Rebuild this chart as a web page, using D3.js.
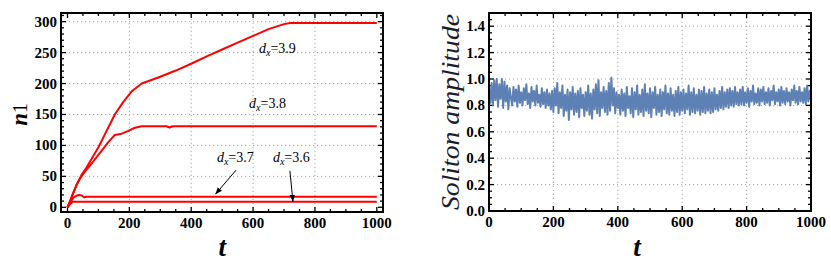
<!DOCTYPE html>
<html><head><meta charset="utf-8">
<script src="https://cdn.jsdelivr.net/npm/d3@7"></script>
<style>body{margin:0;background:#fff}svg{display:block}</style>
</head><body>
<svg id="c" width="831" height="273"></svg>
<script>
// ---- data ----
const d39_t = [0,10,20,30,45,60,80,100,120,153,180,207,240,300,350,400,450,500,550,600,650,700,720,1000];
const d39_n = [0,12,25,37,52,63,80,97,117,150,170,187,200,211,221,232,244,255,266,277,288,296,298,298];
const d38_t = [0,10,20,30,45,60,80,105,130,153,175,195,215,240,320,330,340,1000];
const d38_n = [0,12,25,37,50,60,72,88,104,117,119,123,128,131,131,129,131,131];
const d37_t = [0,10,20,30,38,46,55,60,1000];
const d37_n = [0,9,16,19,20,19,16,17,17];
const d36_t = [0,8,16,1000];
const d36_n = [0,5,9,9];
const leftXTicks = [0,200,400,600,800,1000];
const leftYTicks = [0,50,100,150,200,250,300];
const rightXTicks = [0,200,400,600,800,1000];
const rightYTicks = [0,0.2,0.4,0.6,0.8,1.0,1.2,1.4];
const labels = [
  {name:"3.9", t:619, n:249},
  {name:"3.8", t:587, n:160},
  {name:"3.7", t:483, n:73},
  {name:"3.6", t:664, n:73}
];
const arrows = [
  {t0:545, n0:60, t1:478, n1:21},
  {t0:719, n0:59, t1:729, n1:9}
];
// soliton amplitude sampled every 4 time units
const ampStep = 4;
const amp = [
0.93,0.82,0.97,0.80,0.99,0.84,1.00,0.79,0.96,0.85,1.00,0.78,0.98,0.83,0.95,0.77,0.93,0.86,
0.80,0.94,0.83,0.92,0.79,0.95,0.82,0.90,0.80,0.93,0.84,0.96,0.81,0.89,0.78,0.94,0.83,0.91,0.80,0.95,0.82,0.88,0.79,0.93,0.81,0.90,0.78,0.92,0.80,0.89,0.77,0.91,
0.75,0.93,0.80,0.97,0.74,0.90,0.78,0.95,0.72,0.88,0.76,0.92,0.69,0.90,0.77,0.94,0.73,0.89,0.75,0.91,0.71,0.93,0.78,0.88,0.72,0.90,0.76,0.95,0.73,0.89,0.70,0.92,0.77,0.96,0.74,0.99,0.72,0.90,0.78,0.94,0.75,0.91,0.73,0.97,0.76,1.01,0.80,0.93,0.74,0.90,
0.78,0.88,0.73,0.92,0.76,0.89,0.72,0.94,0.78,0.87,0.74,0.93,0.71,0.90,0.77,0.95,0.73,0.88,0.75,0.92,0.72,0.96,0.76,0.89,0.74,0.93,0.71,0.90,0.78,0.94,0.73,0.88,0.75,0.92,0.72,0.90,0.77,0.95,0.74,0.89,0.73,0.93,0.76,0.88,0.72,0.91,0.75,0.94,0.73,0.90,
0.76,0.92,0.74,0.89,0.77,0.95,0.73,0.90,0.75,0.93,0.74,0.88,0.76,0.92,0.73,0.91,0.75,0.94,0.74,0.89,0.76,0.92,0.74,0.90,0.75,0.93,0.77,0.88,0.76,0.91,0.78,0.94,0.77,0.90,0.79,0.92,0.78,0.93,0.80,0.91,0.79,0.94,0.81,0.90,0.80,
0.92,0.81,0.94,0.80,0.90,0.82,0.93,0.79,0.91,0.83,0.95,0.81,0.89,0.82,0.93,0.80,0.92,0.83,0.94,0.81,0.90,0.82,0.93,0.80,0.91,0.84,0.95,0.81,0.90,0.83,0.92,0.80,0.94,0.82,0.91,0.81,0.93,0.83,0.90,0.80,0.92,0.84,0.95,0.82,0.91,0.81,0.94,0.83,0.90,0.82,0.93,0.81,0.95,0.83,0.91,0.86
];

const svg = d3.select("#c");
const serif = "'Liberation Serif','DejaVu Serif',serif";

svg.append("defs").append("marker").attr("id","ah").attr("viewBox","0 0 10 10")
  .attr("refX",10).attr("refY",5).attr("markerWidth",7).attr("markerHeight",7)
  .attr("orient","auto").attr("markerUnits","userSpaceOnUse")
  .append("path").attr("d","M0,1L10,5L0,9Z").attr("fill","#000");

function frame(g, x, y, xt, yt, xMinor, yMinor, xfmt, yfmt, gridX, gridY){
  const [x0,x1] = x.range(), [y0,y1] = y.range();
  g.selectAll(".gx").data(gridX).join("line").attr("x1",d=>x(d)).attr("x2",d=>x(d))
    .attr("y1",y0).attr("y2",y1).attr("stroke","#aaa").attr("stroke-width",1).attr("stroke-dasharray","1.2,2.8");
  g.selectAll(".gy").data(gridY).join("line").attr("y1",d=>y(d)).attr("y2",d=>y(d))
    .attr("x1",x0).attr("x2",x1).attr("stroke","#aaa").attr("stroke-width",1).attr("stroke-dasharray","1.2,2.8");
  const tk = g.append("g").attr("stroke","#000").attr("stroke-width",1.3);
  xt.forEach(v=>{ tk.append("line").attr("x1",x(v)).attr("x2",x(v)).attr("y1",y0).attr("y2",y0-5);
                  tk.append("line").attr("x1",x(v)).attr("x2",x(v)).attr("y1",y1).attr("y2",y1+5);});
  xMinor.forEach(v=>{ tk.append("line").attr("x1",x(v)).attr("x2",x(v)).attr("y1",y0).attr("y2",y0-3);
                  tk.append("line").attr("x1",x(v)).attr("x2",x(v)).attr("y1",y1).attr("y2",y1+3);});
  yt.forEach(v=>{ tk.append("line").attr("y1",y(v)).attr("y2",y(v)).attr("x1",x0).attr("x2",x0+5);
                  tk.append("line").attr("y1",y(v)).attr("y2",y(v)).attr("x1",x1).attr("x2",x1-5);});
  yMinor.forEach(v=>{ tk.append("line").attr("y1",y(v)).attr("y2",y(v)).attr("x1",x0).attr("x2",x0+3);
                  tk.append("line").attr("y1",y(v)).attr("y2",y(v)).attr("x1",x1).attr("x2",x1-3);});
  g.selectAll(".xl").data(xt).join("text").attr("x",d=>x(d)).attr("y",y0+16)
    .attr("text-anchor","middle").attr("font-family",serif).attr("font-weight","bold").attr("font-size",15).text(xfmt);
  g.selectAll(".yl").data(yt).join("text").attr("x",x0-4).attr("y",d=>y(d)+5)
    .attr("text-anchor","end").attr("font-family",serif).attr("font-weight","bold").attr("font-size",15).text(yfmt);
}
function border(g,x,y){
  const [x0,x1]=x.range(),[y0,y1]=y.range();
  g.append("rect").attr("x",x0).attr("y",y1).attr("width",x1-x0).attr("height",y0-y1)
    .attr("fill","none").attr("stroke","#000").attr("stroke-width",2);
}

// ---- left panel ----
const xL = d3.scaleLinear().domain([-21,1020]).range([61,383]);
const yL = d3.scaleLinear().domain([-7.6,314]).range([212,13]);
const gL = svg.append("g");
const minorX = d3.range(0,1001,50).filter(v=>v%200!==0);
frame(gL,xL,yL,leftXTicks,leftYTicks,minorX,d3.range(0,311,10).filter(v=>v%50!==0),d=>d,d=>d,
  leftXTicks.filter(v=>v>0 && v<1000), leftYTicks.filter(v=>v>0));
const lineL = d3.line().x(d=>xL(d[0])).y(d=>yL(d[1]));
[[d39_t,d39_n],[d38_t,d38_n],[d37_t,d37_n],[d36_t,d36_n]].forEach(([t,n])=>{
  gL.append("path").attr("d",lineL(t.map((v,i)=>[v,n[i]]))).attr("fill","none")
    .attr("stroke","#ff0000").attr("stroke-width",2).attr("stroke-linejoin","round");
});
labels.forEach(l=>{
  const tx = gL.append("text").attr("x",xL(l.t)).attr("y",yL(l.n)).attr("font-family",serif).attr("font-size",14);
  tx.append("tspan").attr("font-style","italic").text("d");
  tx.append("tspan").attr("font-style","italic").attr("font-size",10).attr("dy",3).text("x");
  tx.append("tspan").attr("dy",-3).text("=" + l.name);
});
arrows.forEach(a=>{
  gL.append("line").attr("x1",xL(a.t0)).attr("y1",yL(a.n0)).attr("x2",xL(a.t1)).attr("y2",yL(a.n1))
    .attr("stroke","#000").attr("stroke-width",1).attr("marker-end","url(#ah)");
});
border(gL,xL,yL);
const ny = svg.append("text").attr("transform",`translate(27,${yL(150)}) rotate(-90)`).attr("text-anchor","middle")
  .attr("font-family",serif).attr("font-size",23).attr("font-weight","bold");
ny.append("tspan").attr("font-style","italic").text("n");
ny.append("tspan").attr("font-size",20).attr("font-weight","normal").text("1");
svg.append("text").attr("x",xL(500)).attr("y",256).attr("text-anchor","middle").attr("font-family",serif)
  .attr("font-style","italic").attr("font-weight","bold").attr("font-size",27).text("t");

// ---- right panel ----
const xR = d3.scaleLinear().domain([0,1000]).range([489,811]);
const yR = d3.scaleLinear().domain([0,1.5]).range([211,13]);
const gR = svg.append("g");
frame(gR,xR,yR,rightXTicks,rightYTicks,minorX,d3.range(0,1.5,0.05).map(v=>+v.toFixed(2)).filter(v=>Math.round(v*100)%20!==0),
  d=>d, d=>d.toFixed(1), rightXTicks.filter(v=>v>0 && v<1000), rightYTicks.filter(v=>v>0));
const lineR = d3.line().x((d,i)=>xR(i*ampStep)).y(d=>yR(d));
gR.append("path").attr("d",lineR(amp)).attr("fill","none").attr("stroke","#5e81b5").attr("stroke-width",2).attr("stroke-linejoin","round");
border(gR,xR,yR);
svg.append("text").attr("transform",`translate(459,${yR(0.75)}) rotate(-90)`).attr("text-anchor","middle")
  .attr("font-family",serif).attr("font-style","italic").attr("font-size",25).attr("fill","#1c1c2a")
  .attr("textLength",196).attr("lengthAdjust","spacingAndGlyphs").text("Soliton amplitude");
svg.append("text").attr("x",xR(460)).attr("y",256).attr("text-anchor","middle").attr("font-family",serif)
  .attr("font-style","italic").attr("font-weight","bold").attr("font-size",27).text("t");
</script>
</body></html>
